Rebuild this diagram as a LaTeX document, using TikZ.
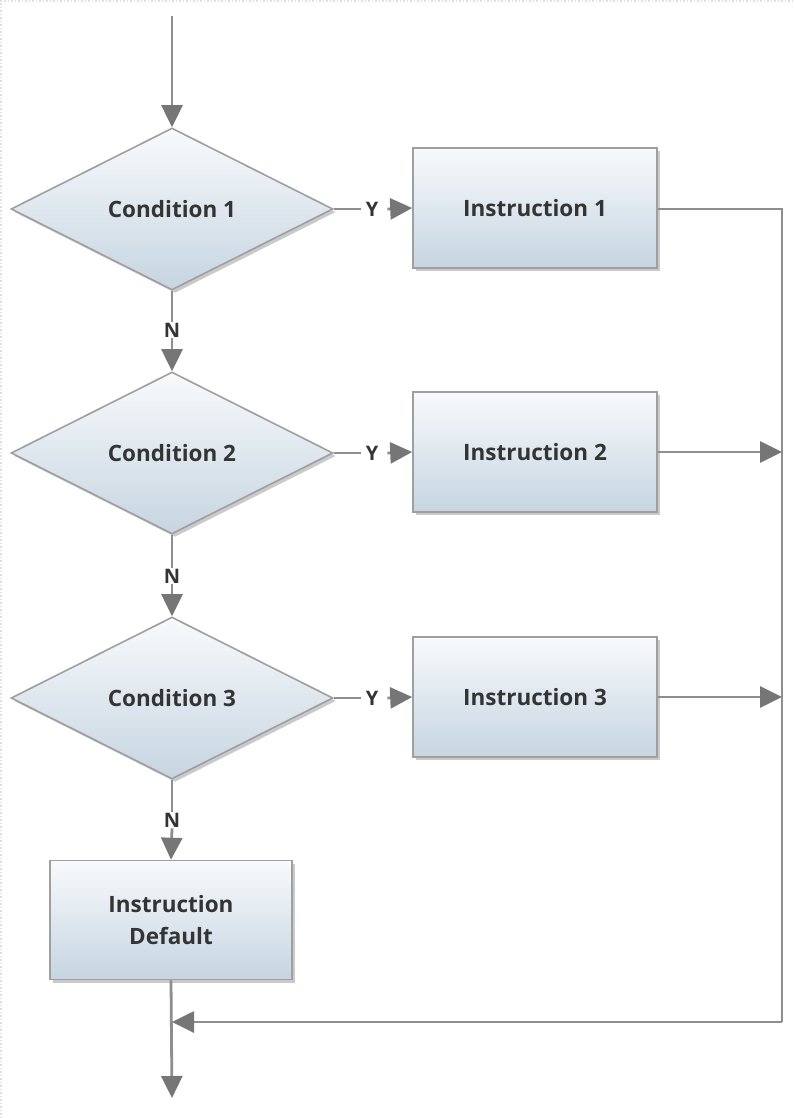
\documentclass[tikz,border=0pt]{standalone}
\usepackage{fontspec}
\setmainfont{Open Sans}
\usetikzlibrary{shapes.geometric,arrows.meta,shadows}
\definecolor{linegray}{HTML}{8E8E8E}
\definecolor{headgray}{HTML}{767676}
\definecolor{boxtop}{HTML}{F8FAFC}
\definecolor{boxbot}{HTML}{C6D5E1}
\definecolor{txt}{HTML}{343434}
\tikzset{
  lbl/.style={font=\fontsize{22.5}{26}\selectfont\bfseries, text=txt},
  shapebase/.style={draw=linegray!85, line width=1.6pt, top color=boxtop, bottom color=boxbot,
     drop shadow={shadow xshift=3pt, shadow yshift=-3pt, opacity=0.35, fill=black!60}},
  decision/.style={shapebase, diamond, aspect=2, inner sep=0pt, minimum width=322pt, minimum height=162pt, lbl},
  instr/.style={shapebase, rectangle, minimum width=244pt, minimum height=120pt, inner sep=0pt, lbl, align=center},
  conn/.style={draw=linegray, line width=2.8pt},
  arr/.style={conn, -{Triangle[length=22pt,width=21pt,color=headgray]}},
  yn/.style={font=\fontsize{20}{22}\selectfont\bfseries, text=txt, inner sep=1pt}
}
\begin{document}
\begin{tikzpicture}[x=1pt,y=-1pt]
\useasboundingbox (0,0) rectangle (794,1118);
\draw[black!12, dotted, line width=1.5pt] (1,1118) -- (1,1) -- (794,1);
% nodes
\node[decision] (c1) at (172,209) {Condition 1};
\node[decision] (c2) at (172,453) {Condition 2};
\node[decision] (c3) at (172,698) {Condition 3};
\node[instr] (i1) at (535,208) {Instruction 1};
\node[instr] (i2) at (535,452) {Instruction 2};
\node[instr] (i3) at (535,697) {Instruction 3};
\node[instr, minimum width=242pt, minimum height=119pt] (id) at (171,920) {Instruction\\[6pt]Default};
% labels
\node[yn] (y1) at (372,209) {Y};
\node[yn] (y2) at (372,453) {Y};
\node[yn] (y3) at (372,698) {Y};
\node[yn] (n1) at (172,330) {N};
\node[yn] (n2) at (172,576) {N};
\node[yn] (n3) at (172,820) {N};
% coordinates
\coordinate (start) at (172,16);
\coordinate (rt1) at (782,209);
\coordinate (rt2) at (782,452);
\coordinate (rt3) at (782,697);
\coordinate (rb) at (782,1022);
\coordinate (merge) at (172,1022);
\coordinate (endp) at (172,1098);
% connectors
\draw[arr] (start) -- (c1.north);
\draw[conn] (c1.east) -- ([xshift=-4pt]y1.west);
\draw[arr] ([xshift=8pt]y1.east) -- (i1.west);
\draw[conn] (c2.east) -- ([xshift=-4pt]y2.west);
\draw[arr] ([xshift=8pt]y2.east) -- (i2.west);
\draw[conn] (c3.east) -- ([xshift=-4pt]y3.west);
\draw[arr] ([xshift=8pt]y3.east) -- (i3.west);
\draw[conn] (c1.south) -- (n1.north);
\draw[arr] (n1.south) -- (c2.north);
\draw[conn] (c2.south) -- (n2.north);
\draw[arr] (n2.south) -- (c3.north);
\draw[conn] (c3.south) -- (n3.north);
\draw[arr] (n3.south) -- (id.north);
\draw[conn] (i1.east |- rt1) -- (rt1) -- (rb);
\draw[arr] (rb) -- (merge);
\draw[arr] (i2.east |- rt2) -- (rt2);
\draw[arr] (i3.east |- rt3) -- (rt3);
\draw[arr] (id.south) -- (endp);
\end{tikzpicture}
\end{document}
